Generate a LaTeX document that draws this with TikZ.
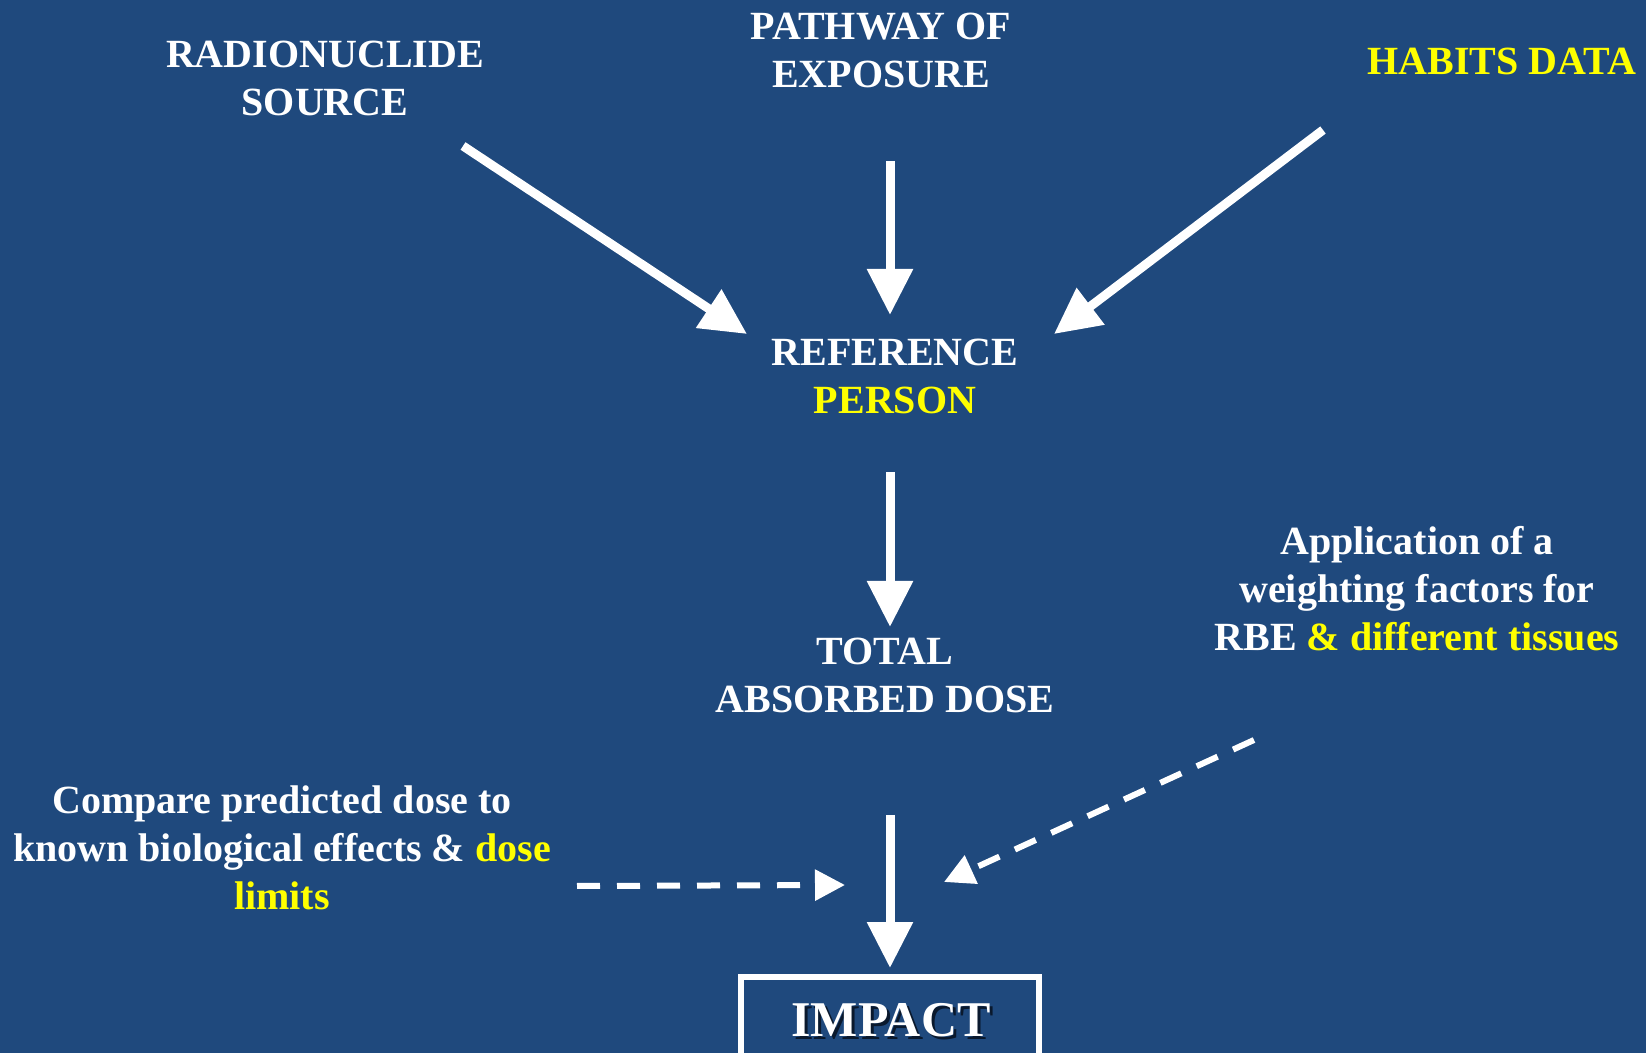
\documentclass[tikz,border=0pt]{standalone}
\usepackage{fontspec}
\setmainfont{Liberation Serif}
\usetikzlibrary{arrows.meta}
\definecolor{bgblue}{RGB}{31,73,125}
\definecolor{hiyellow}{RGB}{255,255,0}
\definecolor{shadowc}{RGB}{10,25,45}
\begin{document}
\begin{tikzpicture}[x=0.5pt,y=-0.5pt,
  lbl/.style={text=white,font=\fontsize{20}{24}\selectfont\bfseries,align=center,inner sep=0pt},
  solidarrow/.style={white,line width=4.5pt,-{Triangle[length=23pt,width=22pt]}},
  dasharrow/.style={white,line width=3pt,dash pattern=on 11.5pt off 8.5pt,-{Triangle[length=15pt,width=15pt]}}]
\fill[bgblue] (0,0) rectangle (1646,1053);
\useasboundingbox (0,0) rectangle (1646,1053);
\clip (0,0) rectangle (1646,1053);
% texts
\node[lbl] (src) at (325,78) {RADIONUCLIDE\\SOURCE};
\node[lbl] (path) at (881,50) {PATHWAY OF\\EXPOSURE};
\node[lbl,text=hiyellow] (habits) at (1502,61) {HABITS DATA};
\node[lbl] (ref) at (895,376) {REFERENCE\\\textcolor{hiyellow}{PERSON}};
\node[lbl] (total) at (885,675) {TOTAL\\ABSORBED DOSE};
\node[lbl] (appl) at (1417,589) {Application of a\\weighting factors for\\RBE \textcolor{hiyellow}{\& different tissues}};
\node[lbl] (comp) at (282,848) {Compare predicted dose to\\known biological effects \& \textcolor{hiyellow}{dose}\\\textcolor{hiyellow}{limits}};
% impact box
\draw[white,line width=3pt] (741,977) rectangle (1039,1080);
\node[text=shadowc,font=\fontsize{25}{30}\selectfont\bfseries,inner sep=0pt] at (894,1023) {IMPACT};
\node[text=white,font=\fontsize{25}{30}\selectfont\bfseries,inner sep=0pt] (impact) at (891,1020) {IMPACT};
% arrow endpoints
\coordinate (a1s) at (463,146); \coordinate (a1e) at (747,334);
\coordinate (a2s) at (890,161); \coordinate (a2e) at (890,315);
\coordinate (a3s) at (1323,130); \coordinate (a3e) at (1054,334);
\coordinate (a4s) at (890,472); \coordinate (a4e) at (890,627);
\coordinate (a5s) at (890,815); \coordinate (a5e) at (890,968);
\coordinate (d1s) at (577,886); \coordinate (d1e) at (845,885);
\coordinate (d2s) at (1254,740); \coordinate (d2e) at (944,882);
\draw[solidarrow] (a1s) -- (a1e);
\draw[solidarrow] (a2s) -- (a2e);
\draw[solidarrow] (a3s) -- (a3e);
\draw[solidarrow] (a4s) -- (a4e);
\draw[solidarrow] (a5s) -- (a5e);
\draw[dasharrow] (d1s) -- (d1e);
\draw[dasharrow] (d2s) -- (d2e);
\end{tikzpicture}
\end{document}
